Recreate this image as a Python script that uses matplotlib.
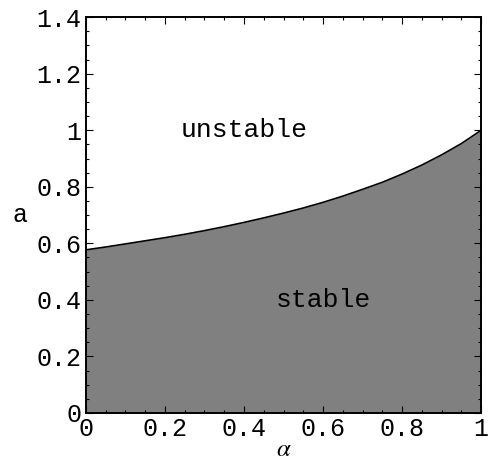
import numpy as np
import matplotlib
matplotlib.use('Agg')
import matplotlib.pyplot as plt
from matplotlib.ticker import MultipleLocator

# stability boundary
alpha = [0.0, 0.05, 0.1, 0.15, 0.2, 0.25, 0.3, 0.35, 0.4, 0.45, 0.5,
         0.55, 0.6, 0.65, 0.7, 0.75, 0.8, 0.85, 0.9, 0.95, 1.0]
a_crit = [0.577, 0.587, 0.598, 0.609, 0.620, 0.632, 0.645, 0.659, 0.674, 0.690, 0.707,
          0.725, 0.745, 0.767, 0.791, 0.816, 0.845, 0.877, 0.913, 0.953, 1.0]

x_ticks = [0, 0.2, 0.4, 0.6, 0.8, 1]
x_labels = ["0", "0.2", "0.4", "0.6", "0.8", "1"]
y_ticks = [0, 0.2, 0.4, 0.6, 0.8, 1, 1.2, 1.4]
y_labels = ["0", "0.2", "0.4", "0.6", "0.8", "1", "1.2", "1.4"]

plt.rcParams['font.family'] = ['Liberation Mono', 'DejaVu Sans']
plt.rcParams['mathtext.fontset'] = 'stix'

fig = plt.figure(figsize=(4.88, 4.63), dpi=100)
ax = fig.add_axes([0.176, 0.108, 0.810, 0.855])

ax.fill_between(alpha, 0, a_crit, color='#808080', linewidth=0)
ax.plot(alpha, a_crit, color='black', linewidth=1.2)

ax.set_xlim(0, 1)
ax.set_ylim(0, 1.4)
ax.set_xticks(x_ticks)
ax.set_xticklabels(x_labels)
ax.set_yticks(y_ticks)
ax.set_yticklabels(y_labels)
ax.xaxis.set_minor_locator(MultipleLocator(0.05))
ax.yaxis.set_minor_locator(MultipleLocator(0.05))
ax.tick_params(which='both', direction='in', top=True, right=True,
               labelsize=18, width=0.8, pad=3)
ax.tick_params(which='major', length=5)
ax.tick_params(which='minor', length=2.5)
for s in ax.spines.values():
    s.set_linewidth(1.4)

ax.set_xlabel(r'$\alpha$', fontsize=18, labelpad=-3)
ax.set_ylabel('a', fontsize=18, rotation=0, labelpad=12, va='center')

ax.text(0.4, 1.0, 'unstable', fontsize=19, ha='center', va='center')
ax.text(0.6, 0.4, 'stable', fontsize=19, ha='center', va='center')

fig.savefig('out.png', dpi=100)
